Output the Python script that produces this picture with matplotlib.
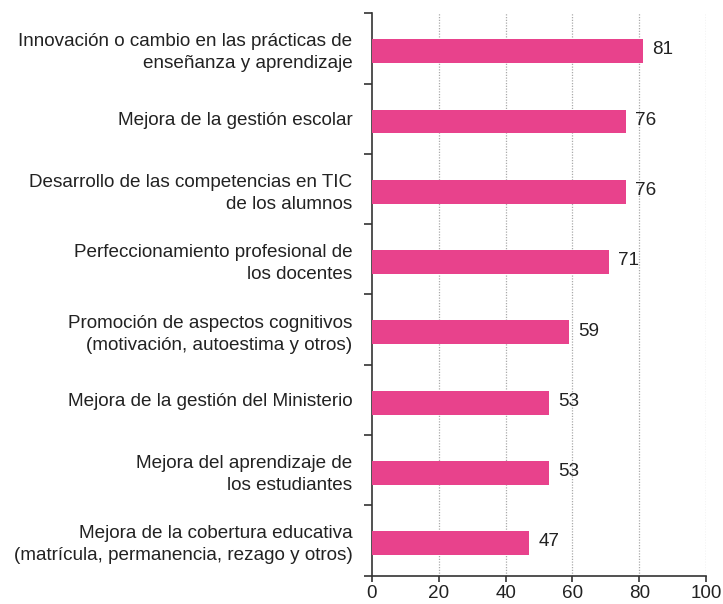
"""Horizontal bar chart: perceived impacts (percent)."""

import matplotlib

matplotlib.use("Agg")
import matplotlib.pyplot as plt
import numpy as np

CATEGORIES = [
    "Innovación o cambio en las prácticas de\nenseñanza y aprendizaje",
    "Mejora de la gestión escolar",
    "Desarrollo de las competencias en TIC\nde los alumnos",
    "Perfeccionamiento profesional de\nlos docentes",
    "Promoción de aspectos cognitivos\n(motivación, autoestima y otros)",
    "Mejora de la gestión del Ministerio",
    "Mejora del aprendizaje de\nlos estudiantes",
    "Mejora de la cobertura educativa\n(matrícula, permanencia, rezago y otros)",
]
VALUES = [81, 76, 76, 71, 59, 53, 53, 47]
X_TICKS = [0, 20, 40, 60, 80, 100]

BAR_COLOR = "#E8428C"
SPINE_COLOR = "#333333"
FS = 13.6

plt.rcParams["font.family"] = ["Liberation Sans", "DejaVu Sans"]

fig = plt.figure(figsize=(7.23, 6.04), dpi=100)
ax = fig.add_axes([0.5145, 0.047, 0.462, 0.931])

n = len(CATEGORIES)
pos = np.arange(n)
ax.barh(pos + 0.04, VALUES, height=0.34, color=BAR_COLOR, zorder=3)

for p, v in zip(pos, VALUES):
    ax.text(v + 2.8, p + 0.02, str(v), va="center", ha="left",
            fontsize=FS, color="#222222")

ax.set_xlim(0, 100)
ax.set_ylim(n - 0.5, -0.5)
ax.set_xticks(X_TICKS)
ax.set_xticklabels([str(t) for t in X_TICKS], fontsize=FS, color="#222222")

ax.set_yticks(pos)
ax.set_yticklabels(CATEGORIES, fontsize=FS, color="#222222",
                   linespacing=1.38)
ax.tick_params(axis="y", which="major", length=0, pad=14)
ax.set_yticks(np.arange(n + 1) - 0.5, minor=True)
ax.tick_params(axis="y", which="minor", length=6, width=1.2,
               color=SPINE_COLOR, direction="out")
ax.tick_params(axis="x", length=4, width=1.2, color=SPINE_COLOR, pad=3)

for x in X_TICKS[1:]:
    ax.axvline(x, color="#aaaaaa", linestyle=(0, (1, 1.2)), linewidth=0.9,
               zorder=1)

for side in ("top", "right"):
    ax.spines[side].set_visible(False)
for side in ("left", "bottom"):
    ax.spines[side].set_color(SPINE_COLOR)
    ax.spines[side].set_linewidth(1.2)

fig.savefig("out.png", dpi=100)
